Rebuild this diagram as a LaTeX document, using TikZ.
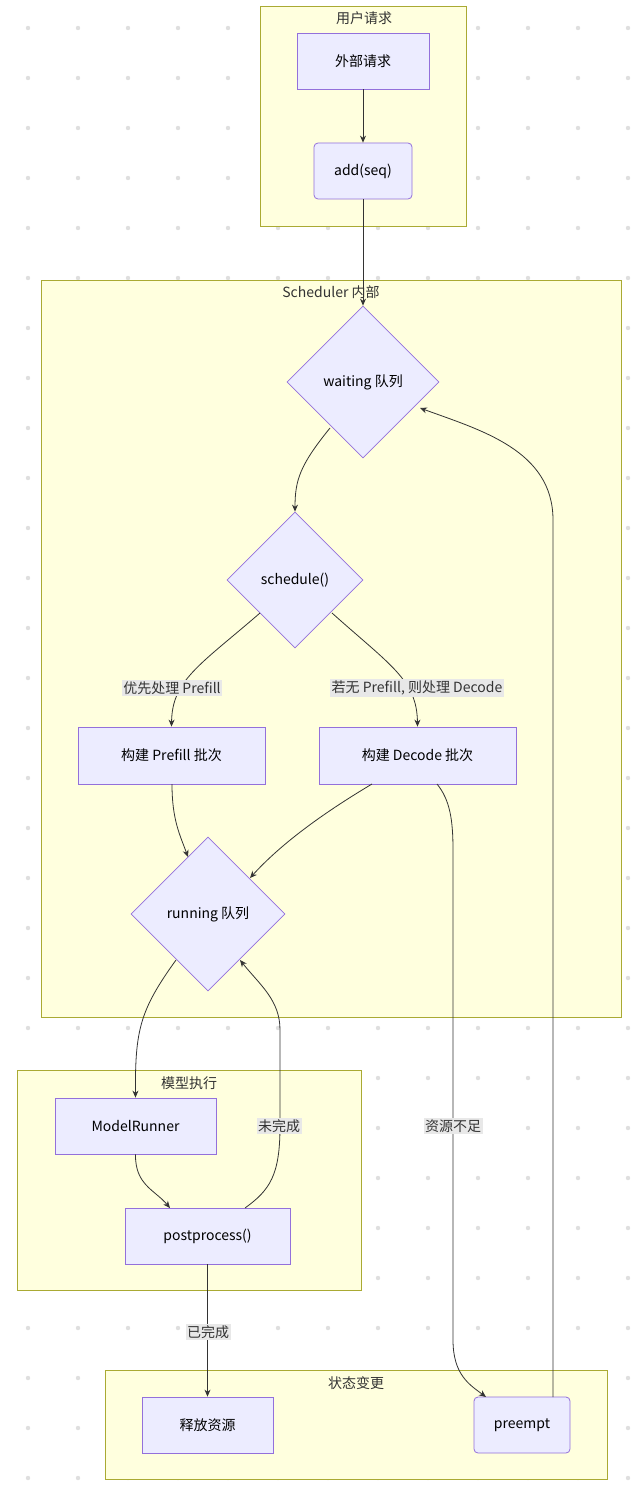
\documentclass[tikz,border=0pt]{standalone}
\usepackage{fontspec}
\setmainfont{Noto Sans CJK SC}
\usetikzlibrary{shapes.geometric,arrows.meta}
\definecolor{clfill}{HTML}{FFFFDE}
\definecolor{clline}{HTML}{AAAA33}
\definecolor{nfill}{HTML}{ECECFF}
\definecolor{nline}{HTML}{9370DB}
\definecolor{ed}{HTML}{333333}
\definecolor{lblbg}{HTML}{E8E8E8}
\tikzset{
 clus/.style={draw=clline,fill=clfill,line width=0.8pt},
 box/.style={draw=nline,fill=nfill,line width=0.8pt,inner sep=0pt},
 diam/.style={diamond,draw=nline,fill=nfill,line width=0.8pt,inner sep=0pt,aspect=1},
 ttl/.style={font=\fontsize{14}{16}\selectfont,text=ed},
 lbl/.style={fill=lblbg,font=\fontsize{14}{16}\selectfont,text=ed,inner sep=1.5pt},
 arr/.style={draw=ed,line width=0.8pt,-{Stealth[length=7pt,width=6pt]}},
}
\begin{document}
\begin{tikzpicture}[x=1pt,y=-1pt,font=\fontsize{14}{16}\selectfont]
\fill[white] (0,0) rectangle (640,1490);
\useasboundingbox (0,0) rectangle (640,1490);
\foreach \i in {0,...,12}{\foreach \j in {0,...,29}{\fill[gray!25] (28+50*\i,28+50*\j) circle (2.2);}}
% clusters
\draw[clus] (260,6) rectangle (466,226);
\node[ttl] (t1) at (364,18) {用户请求};
\draw[clus] (41,280) rectangle (621,1017);
\node[ttl] (t2) at (331,292) {Scheduler 内部};
\draw[clus] (17,1070) rectangle (361,1290);
\node[ttl] (t3) at (189,1083) {模型执行};
\draw[clus] (105,1370) rectangle (607,1479);
\node[ttl] (t4) at (356,1383) {状态变更};
% nodes
\node[box,minimum width=132,minimum height=56] (ext) at (363,61) {外部请求};
\node[box,rounded corners=4,minimum width=98,minimum height=56] (add) at (363,171) {add(seq)};
\node[diam,minimum width=152,minimum height=152] (wait) at (363,382) {waiting 队列};
\node[diam,minimum width=136,minimum height=136] (sch) at (295,580) {schedule()};
\node[box,minimum width=187,minimum height=57] (pre) at (171.5,755.5) {构建 Prefill 批次};
\node[box,minimum width=197,minimum height=57] (dec) at (417.5,755.5) {构建 Decode 批次};
\node[diam,minimum width=154,minimum height=154] (run) at (208,914) {running 队列};
\node[box,minimum width=161,minimum height=56] (mr) at (135.5,1126) {ModelRunner};
\node[box,minimum width=165,minimum height=56] (pp) at (207.5,1236) {postprocess()};
\node[box,minimum width=131,minimum height=56] (rel) at (207.5,1425) {释放资源};
\node[box,rounded corners=4,minimum width=96,minimum height=56] (pe) at (522,1425) {preempt};
% edges
\draw[arr] (ext) -- (add);
\draw[arr] (add) -- (wait.north);
\draw[arr] (330,428) .. controls (300,465) and (295,480) .. (sch.north);
\draw[arr] (260,613) .. controls (200,665) and (172,680) .. (pre.north);
\node[lbl] (l1) at (172,688) {优先处理 Prefill};
\draw[arr] (332,613) .. controls (390,665) and (417,680) .. (dec.north);
\node[lbl] (l2) at (417,688) {若无 Prefill, 则处理 Decode};
\draw[arr] (172,784) .. controls (172,820) and (180,835) .. (188,857);
\draw[arr] (372,784) .. controls (320,815) and (280,845) .. (250,878);
\draw[arr] (176,960) .. controls (140,1010) and (135,1030) .. (mr.north);
\draw[arr] (mr.south) .. controls (135,1185) and (155,1190) .. (170,1208);
\draw[arr] (245,1208) .. controls (270,1190) and (280,1175) .. (280,1126) -- (280,1030) .. controls (280,1000) and (260,985) .. (240,960);
\node[lbl] (l3) at (279,1126) {未完成};
\draw[arr] (pp.south) -- (rel.north);
\node[lbl] (l4) at (208,1332) {已完成};
\draw[arr] (437,784) .. controls (450,800) and (453,820) .. (453,850) -- (453,1340) .. controls (453,1375) and (470,1385) .. (486,1397);
\node[lbl] (l5) at (453,1126) {资源不足};
\draw[arr] (553,1397) .. controls (553,1385) and (553,1370) .. (553,1340) -- (553,520) .. controls (553,450) and (480,430) .. (420,408);
\end{tikzpicture}
\end{document}
